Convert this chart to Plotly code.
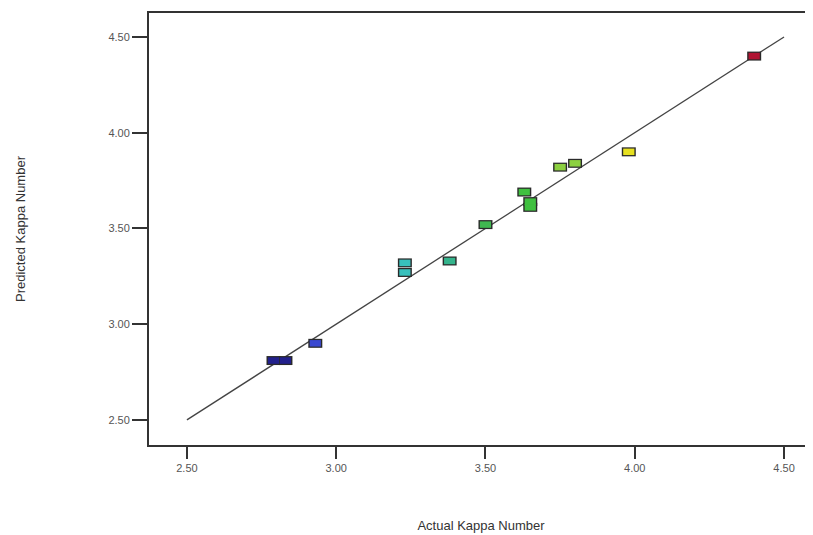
import plotly.graph_objects as go

actual = [4.40, 3.98, 3.80, 3.75, 3.63, 3.65, 3.65, 3.50, 3.38, 3.23, 3.23, 2.93, 2.79, 2.83]
predicted = [4.40, 3.90, 3.84, 3.82, 3.69, 3.64, 3.61, 3.52, 3.33, 3.32, 3.27, 2.90, 2.81, 2.81]
colors = ["#b01432", "#e6e020", "#8cd040", "#8cd040", "#40c040", "#40c040", "#40c040",
          "#40b850", "#34b48c", "#38c0bc", "#38c0bc", "#3a48d0", "#22208c", "#22208c"]
line_x = [2.5, 4.5]
line_y = [2.5, 4.5]
x_ticks = [2.5, 3.0, 3.5, 4.0, 4.5]
x_tick_text = ["2.50", "3.00", "3.50", "4.00", "4.50"]
y_ticks = [2.5, 3.0, 3.5, 4.0, 4.5]
y_tick_text = ["2.50", "3.00", "3.50", "4.00", "4.50"]

fig = go.Figure()
fig.add_trace(go.Scatter(x=line_x, y=line_y, mode="lines",
                         line=dict(color="#444444", width=1.3), hoverinfo="skip"))
# rectangle markers: dark border then coloured fill
fig.add_trace(go.Scatter(x=actual, y=predicted, mode="markers",
                         marker=dict(symbol="line-ew", size=10,
                                     line=dict(color="#2a2a2a", width=9))))
fig.add_trace(go.Scatter(x=actual, y=predicted, mode="markers",
                         marker=dict(symbol="line-ew", size=8,
                                     line=dict(color=colors, width=6.5))))

fig.update_layout(
    width=805, height=527,
    margin=dict(l=141, r=0, t=5, b=90),
    paper_bgcolor="white", plot_bgcolor="white",
    showlegend=False,
    font=dict(family="Liberation Sans, Arial, sans-serif", color="#333333"),
    xaxis=dict(range=[2.373, 4.597], tickvals=x_ticks, ticktext=x_tick_text,
               showgrid=False, zeroline=False, showline=True, linecolor="#333333",
               linewidth=2, mirror=True, ticks="outside", ticklen=12, tickwidth=2,
               tickcolor="#333333", tickfont=dict(size=11, color="#555555"),
               title=dict(text="Actual Kappa Number", font=dict(size=13, color="#333333"),
                          standoff=48)),
    yaxis=dict(range=[2.369, 4.625], tickvals=y_ticks, ticktext=y_tick_text,
               showgrid=False, zeroline=False, showline=True, linecolor="#333333",
               linewidth=2, ticks="outside", ticklen=15, tickwidth=2,
               tickcolor="#333333", tickfont=dict(size=11, color="#555555"),
               title=dict(text="Predicted Kappa Number", font=dict(size=13, color="#333333"),
                          standoff=80)),
)
fig.write_html("out.html")
